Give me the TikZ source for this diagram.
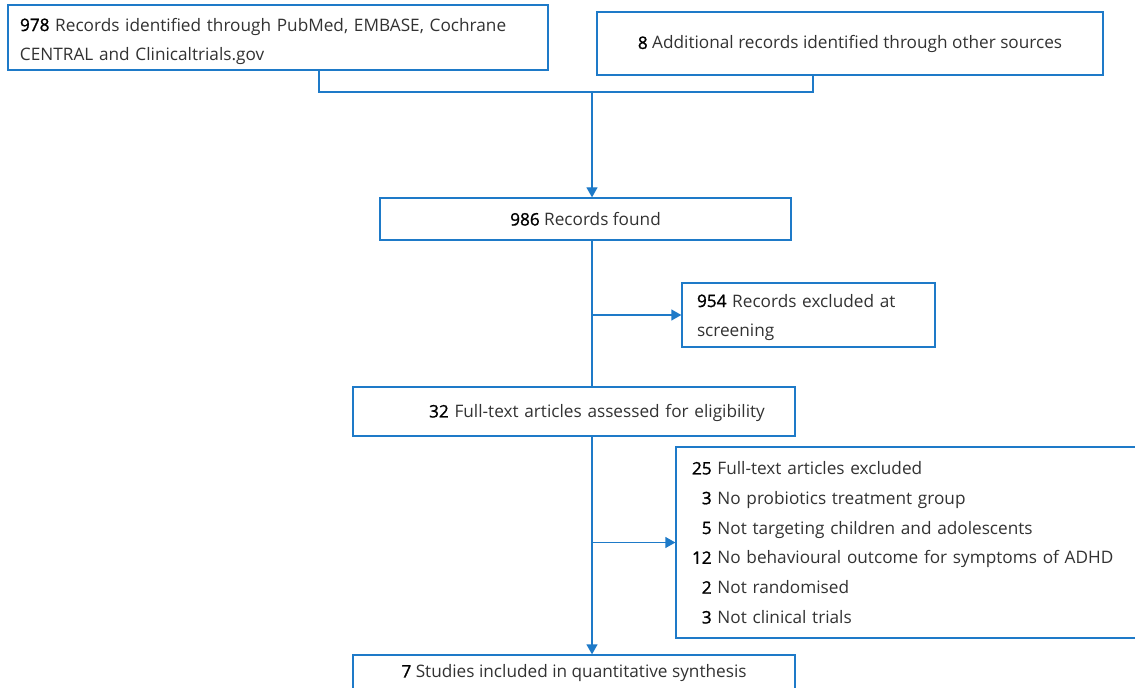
\documentclass[tikz,border=0pt]{standalone}
\usepackage{fontspec}
\setmainfont{Open Sans}
\newfontfamily\numfont{Open Sans}[FakeBold=1.2]
\usetikzlibrary{arrows.meta,calc}
\definecolor{flowblue}{RGB}{30,122,200}
\definecolor{txtgray}{RGB}{50,50,50}
\newcommand{\numb}[1]{{\color{black}\numfont #1}}
\begin{document}
\begin{tikzpicture}[x=1bp,y=-1bp,
  box/.style={draw=flowblue,line width=1.3bp,rectangle,inner ysep=0pt,
    text=txtgray,font=\fontsize{17.2bp}{29.8bp}\selectfont},
  conn/.style={draw=flowblue,line width=1.3bp},
  arr/.style={conn,-{Triangle[width=11bp,length=10bp]}}]
\useasboundingbox (0,0) rectangle (1135,688);
\begin{scope}
\clip (0,0) rectangle (1135,688);
\node[box,minimum width=540bp,minimum height=65bp,text width=516bp,inner xsep=12bp,align=left] (A) at (278,37.5)
  {\rule{0pt}{21bp}\numb{978} Records identified through PubMed, EMBASE, Cochrane\\CENTRAL and Clinicaltrials.gov};
\node[box,minimum width=506bp,minimum height=63bp,align=center] (B) at (850,43.5)
  {\rule{0pt}{15bp}\numb{8} Additional records identified through other sources};
\node[box,minimum width=411bp,minimum height=42bp,align=center] (C) at (585.5,219)
  {\numb{986} Records found};
\node[box,minimum width=253bp,minimum height=64bp,text width=223bp,inner xsep=15bp,align=left] (E) at (808.5,315)
  {\rule{0pt}{18bp}\numb{954} Records excluded at\\screening};
\node[box,minimum width=442bp,minimum height=49bp,text width=442bp,inner xsep=0bp,align=center] (D) at (574,411.5)
  {\rule{0pt}{16bp}\hspace*{46bp}\numb{32} Full-text articles assessed for eligibility};
\node[box,minimum width=474bp,minimum height=191bp,text width=442bp,inner xsep=16bp,align=left] (F) at (913,542.5)
  {\numb{25} Full-text articles excluded\\
   \numb{\phantom{1}3} No probiotics treatment group\\
   \numb{\phantom{1}5} Not targeting children and adolescents\\
   \numb{12} No behavioural outcome for symptoms of ADHD\\
   \numb{\phantom{1}2} Not randomised\\
   \numb{\phantom{1}3} Not clinical trials};
\node[box,minimum width=442bp,minimum height=36bp,align=center] (G) at (574,673)
  {\numb{7} Studies included in quantitative synthesis};
\coordinate (jn) at (592,92);
\draw[conn] ([xshift=41bp]A.south) |- (jn) -| ([xshift=-37bp]B.south);
\draw[arr] (jn) -- (jn |- C.north);
\draw[conn] (C.south -| jn) -- (D.north -| jn);
\draw[arr] (jn |- E.west) -- (E.west);
\draw[arr] (D.south -| jn) -- (G.north -| jn);
\draw[arr] (jn |- F.west) -- (F.west);
\end{scope}
\end{tikzpicture}
\end{document}
